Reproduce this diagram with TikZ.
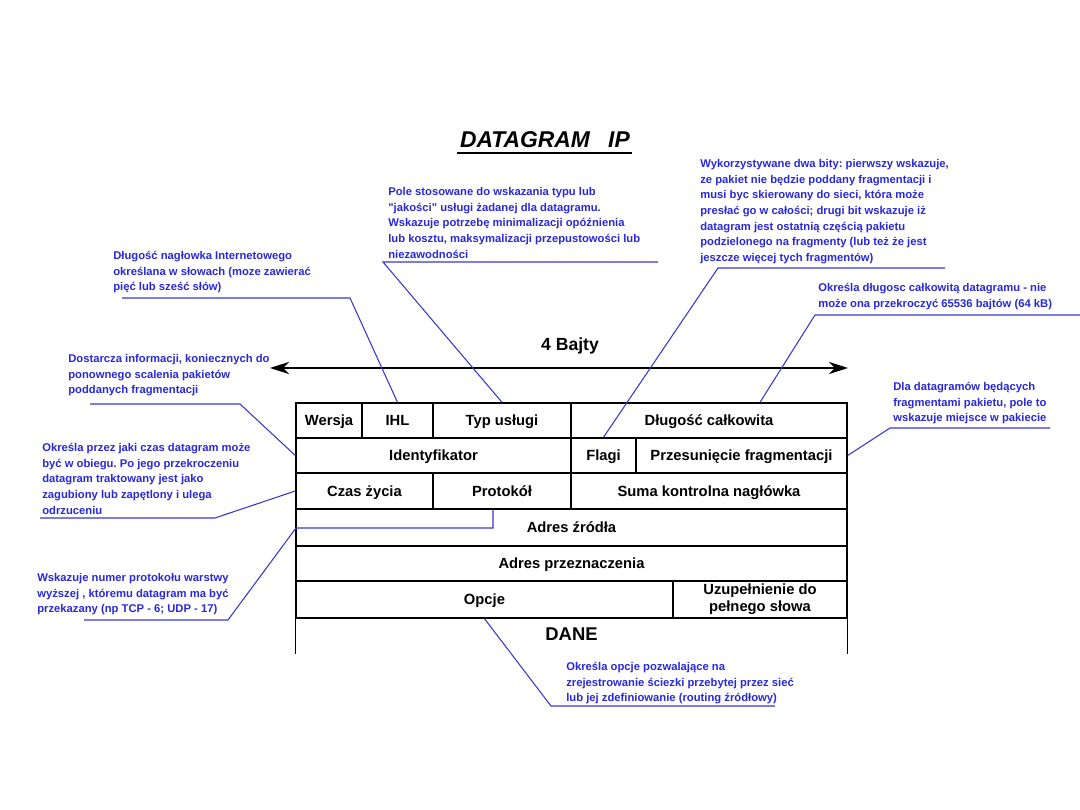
\documentclass[tikz,border=0pt]{standalone}
\usepackage{fontspec}
\setmainfont{Liberation Sans}[Ligatures=TeXOff]
\usetikzlibrary{arrows.meta,calc}
\definecolor{noteblue}{RGB}{40,40,220}
\definecolor{leadblue}{RGB}{55,55,205}
\newcommand{\pxu}{0.02cm}
\frenchspacing

\begin{document}
\begin{tikzpicture}[x=0.02cm,y=-0.02cm,>=Stealth,
  cell/.style 2 args={draw,line width=0.8pt,inner sep=0pt,minimum width=#1*\pxu,minimum height=#2*\pxu,text height=7pt,text depth=1pt,align=center,font=\fontsize{8.4}{9.6}\selectfont\bfseries},
  note/.style={anchor=north west,inner sep=0pt,align=left,text=noteblue,font=\fontsize{6.4}{8.9}\selectfont\bfseries},
  lead/.style={leadblue,line width=0.6pt}]
\useasboundingbox (0,0) rectangle (1080,810);
\node[font=\fontsize{13}{15}\selectfont\bfseries\itshape] (title) at (545,140) {DATAGRAM\hspace{0.8em}IP};
\coordinate (titleL) at (457,153);
\coordinate (titleR) at (632,153);
\draw[line width=0.9pt] (titleL) -- (titleR);
\coordinate (bajtL) at (270,368);
\coordinate (bajtR) at (848,368);
\draw[{Stealth[length=11pt,width=7pt]}-{Stealth[length=11pt,width=7pt]},line width=0.9pt] (bajtL) -- (bajtR);
\node[font=\fontsize{10}{12}\selectfont\bfseries] (bajty) at (570,346) {4 Bajty};
\node[cell={66}{35}] (wersja) at (329,420.5) {Wersja};
\node[cell={71}{35}] (ihl) at (397.5,420.5) {IHL};
\node[cell={138}{35}] (typ) at (502,420.5) {Typ usługi};
\node[cell={276}{35}] (dlugosc) at (709,420.5) {Długość całkowita};
\node[cell={275}{35}] (ident) at (433.5,455.5) {Identyfikator};
\node[cell={65}{35}] (flagi) at (603.5,455.5) {Flagi};
\node[cell={211}{35}] (przes) at (741.5,455.5) {Przesunięcie fragmentacji};
\node[cell={137}{36}] (czas) at (364.5,491) {Czas życia};
\node[cell={138}{36}] (prot) at (502,491) {Protokół};
\node[cell={276}{36}] (suma) at (709,491) {Suma kontrolna nagłówka};
\node[cell={551}{37}] (zrodlo) at (571.5,527.5) {Adres źródła};
\node[cell={551}{35}] (przezn) at (571.5,563.5) {Adres przeznaczenia};
\node[cell={377}{37}] (opcje) at (484.5,599.5) {Opcje};
\node[cell={174}{37},text height=,text depth=] (uzup) at (760,599.5) {Uzupełnienie do\\pełnego słowa};
\node[cell={551}{35},draw=none,font=\fontsize{10.5}{12}\selectfont\bfseries] (dane) at (571.5,635.5) {DANE};
\draw[line width=0.8pt] (dane.north west) -- (dane.south west) (dane.north east) -- (dane.south east);
\node[note] (tosNote) at (388,187) {Pole stosowane do wskazania typu lub\\"jakości" usługi żadanej dla datagramu.\\Wskazuje potrzebę minimalizacji opóźnienia\\lub kosztu, maksymalizacji przepustowości lub\\niezawodności};
\node[note] (flagNote) at (700,159) {Wykorzystywane dwa bity: pierwszy wskazuje,\\ze pakiet nie będzie poddany fragmentacji i\\musi byc skierowany do sieci, która może\\presłać go w całości; drugi bit wskazuje iż\\datagram jest ostatnią częścią pakietu\\podzielonego na fragmenty (lub też że jest\\jeszcze więcej tych fragmentów)};
\node[note] (ihlNote) at (113,251) {Długość nagłowka Internetowego\\określana w słowach (moze zawierać\\pięć lub sześć słów)};
\node[note] (lenNote) at (818,283) {Określa długosc całkowitą datagramu - nie\\może ona przekroczyć 65536 bajtów (64 kB)};
\node[note] (idNote) at (68,354) {Dostarcza informacji, koniecznych do\\ponownego scalenia pakietów\\poddanych fragmentacji};
\node[note] (offNote) at (893,382) {Dla datagramów będących\\fragmentami pakietu, pole to\\wskazuje miejsce w pakiecie};
\node[note] (ttlNote) at (42,443) {Określa przez jaki czas datagram może\\być w obiegu. Po jego przekroczeniu\\datagram traktowany jest jako\\zagubiony lub zapętlony i ulega\\odrzuceniu};
\node[note] (protNote) at (37,573) {Wskazuje numer protokołu warstwy\\wyższej , któremu datagram ma być\\przekazany (np TCP - 6; UDP - 17)};
\node[note] (optNote) at (566,662) {Określa opcje pozwalające na\\zrejestrowanie ściezki przebytej przez sieć\\lub jej zdefiniowanie (routing źródłowy)};
\coordinate (tosR) at (658,262);
\coordinate (tosL) at (383,262);
\coordinate (flagR) at (945,268);
\coordinate (flagL) at (718,268);
\coordinate (ihlL) at (122,298);
\coordinate (ihlR) at (350,298);
\coordinate (lenR) at (1080,315);
\coordinate (lenL) at (815,315);
\coordinate (idL) at (90,404);
\coordinate (idR) at (240,404);
\coordinate (offR) at (1050,428);
\coordinate (offL) at (890,428);
\coordinate (ttlL) at (40,518);
\coordinate (ttlR) at (215,518);
\coordinate (protL) at (84,620);
\coordinate (protR) at (228,620);
\coordinate (optR) at (775,706);
\coordinate (optL) at (551,706);
\draw[lead] (tosR) -- (tosL) -- (typ.north);
\draw[lead] (flagR) -- (flagL) -- (flagi.north);
\draw[lead] (ihlL) -- (ihlR) -- (ihl.north);
\draw[lead] (lenR) -- (lenL) -- ($(dlugosc.north)+(51,0)$);
\draw[lead] (idL) -- (idR) -- (ident.west);
\draw[lead] (offR) -- (offL) -- (przes.east);
\draw[lead] (ttlL) -- (ttlR) -- (czas.west);
\draw[lead] (protL) -- (protR) -- ++(68,-92) -| ($(prot.south)+(-9,0)$);
\draw[lead] (optR) -- (optL) -- (opcje.south);
\end{tikzpicture}
\end{document}
